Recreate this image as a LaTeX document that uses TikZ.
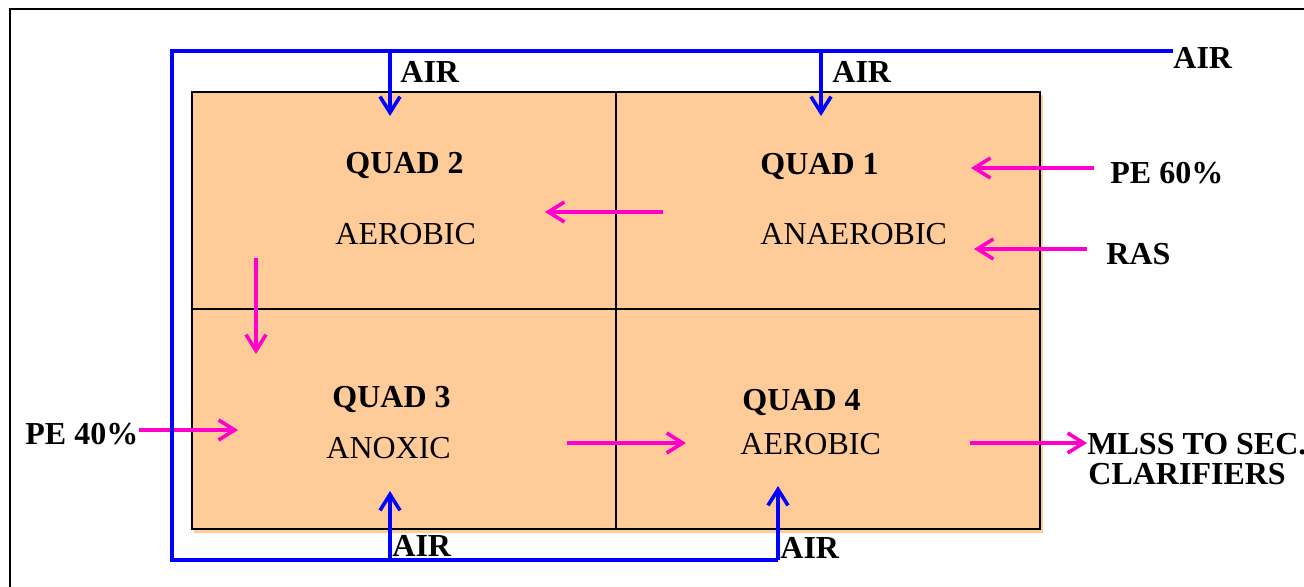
\documentclass[tikz,border=0pt]{standalone}
\usepackage{fontspec}
\setmainfont{Liberation Serif}
\usetikzlibrary{arrows.meta}
\definecolor{peach}{RGB}{255,204,153}
\definecolor{flowpink}{RGB}{255,0,204}
\tikzstyle{quad}=[rectangle,draw=black,line width=1pt,fill=peach,minimum width=212pt,inner sep=0pt]
\tikzstyle{txt}=[inner sep=0pt,anchor=base west,font=\fontsize{16}{18}\selectfont]
\tikzstyle{bold}=[txt,font=\fontsize{16}{18}\selectfont\bfseries]
\tikzstyle{flow}=[draw=flowpink,line width=1.8pt,-{Straight Barb[length=8pt,width=10pt]}]
\tikzstyle{air}=[draw=blue,line width=1.8pt]
\tikzstyle{airin}=[air,-{Straight Barb[length=8pt,width=10pt]}]

\begin{document}
\begin{tikzpicture}[x=0.5pt,y=-0.5pt]
  \useasboundingbox (0,0) rectangle (1304,587);
  \clip (0,0) rectangle (1304,587);

  % outer frame
  \draw[line width=1pt] (10,700) -- (10,9) -- (1400,9);

  % the basin, four quads
  \fill[peach] (194,95) rectangle (1043,533);
  \foreach \pos/\name/\h in {
    {(403.5,200.5)/q2/108.5pt},
    {(828,200.5)/q1/108.5pt},
    {(403.5,419)/q3/110pt},
    {(828,419)/q4/110pt}}
    \node[quad,minimum height=\h] (\name) at \pos {};

  % labels in the quads
  \node[bold] (q2t) at (345,174) {QUAD 2};
  \node[txt]  (q2s) at (335,245) {AEROBIC};
  \node[bold] (q1t) at (760,175) {QUAD 1};
  \node[txt]  (q1s) at (760,245) {ANAEROBIC};
  \node[bold] (q3t) at (332,407) {QUAD 3};
  \node[txt]  (q3s) at (326,458) {ANOXIC};
  \node[bold] (q4t) at (742,410) {QUAD 4};
  \node[txt]  (q4s) at (740,454) {AEROBIC};

  % feeds and outlet
  \node[bold] (pe60) at (1110,184) {PE 60\%};
  \node[bold] (ras) at (1106,265) {RAS};
  \node[bold] (pe40) at (25,444) {PE 40\%};
  \node[bold] (mlss) at (1087,454) {MLSS TO SEC.};
  \node[bold] (clar) at (1088,484) {CLARIFIERS};

  % air labels
  \node[bold] (air1) at (400,83) {AIR};
  \node[bold] (air2) at (832,83) {AIR};
  \node[bold] (air0) at (1173,69) {AIR};
  \node[bold] (air3) at (392,556) {AIR};
  \node[bold] (air4) at (780,558) {AIR};

  % ends of the flow arrows
  \coordinate (a1) at (663,212);  \coordinate (b1) at (545,212);
  \coordinate (a2) at (256,258);  \coordinate (b2) at (256,354);
  \coordinate (b3) at (238,430);
  \coordinate (a4) at (567,443);  \coordinate (b4) at (686,443);
  \coordinate (a5) at (970,443);
  \coordinate (a6) at (1094,168); \coordinate (b6) at (971,168);
  \coordinate (a7) at (1087,249); \coordinate (b7) at (974,249);

  \path[flow] (a1) -- (b1);
  \path[flow] (a2) -- (b2);
  \path[flow] (pe40.east |- b3) -- (b3);
  \path[flow] (a4) -- (b4);
  \path[flow] (a5) -- (mlss.west |- a5);
  \path[flow] (a6) -- (b6);
  \path[flow] (a7) -- (b7);

  % air header round the basin
  \coordinate (h0) at (1173,51);
  \coordinate (h1) at (172,51);
  \coordinate (h2) at (172,560);
  \coordinate (h3) at (778,560);
  \coordinate (t1) at (390,51);  \coordinate (d1) at (390,116);
  \coordinate (t2) at (821,51);  \coordinate (d2) at (821,116);
  \coordinate (t3) at (390,560); \coordinate (d3) at (390,491);
  \coordinate (d4) at (778,486);

  \path[air] (h0) -- (h1) -- (h2) -- (h3);
  \path[airin] (t1) -- (d1);
  \path[airin] (t2) -- (d2);
  \path[airin] (t3) -- (d3);
  \path[airin] (h3) -- (d4);
\end{tikzpicture}
\end{document}
